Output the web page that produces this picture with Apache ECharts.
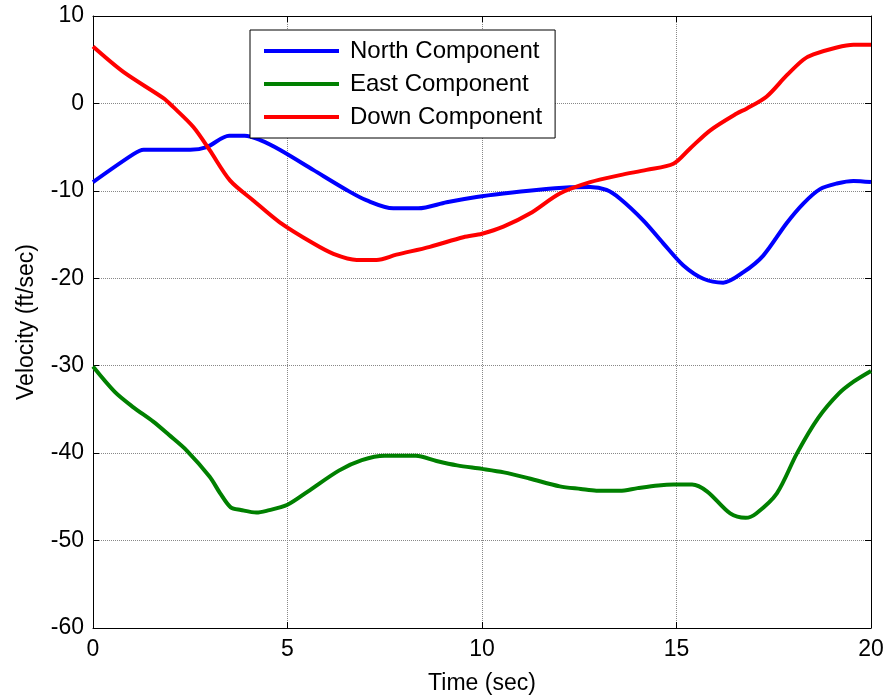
<!DOCTYPE html>
<html>
<head>
<meta charset="utf-8">
<script src="https://cdn.jsdelivr.net/npm/echarts@6/dist/echarts.min.js"></script>
<style>
  html, body { margin: 0; padding: 0; background: #fff; }
  #chart { width: 888px; height: 700px; }
</style>
</head>
<body>
<div id="chart"></div>
<script>
// values (time in sec, velocity in ft/sec)
var northT = [0, 1.04, 1.3, 2.5, 2.92, 3.5, 3.9, 4.3, 4.8, 5.66, 6.52, 7.04, 7.72, 8.36, 9.09, 9.86, 10.55, 11.4, 12.26, 12.78, 13.2, 13.55, 14.15, 14.66, 15.17, 15.69, 16.2, 16.72, 17.23, 17.83, 18.26, 18.69, 19.12, 19.55, 20];
var northV = [-9.0, -5.8, -5.3, -5.3, -5.0, -3.7, -3.7, -4.2, -5.3, -7.6, -9.9, -11.1, -12.0, -12.0, -11.3, -10.7, -10.3, -9.9, -9.6, -9.55, -9.9, -10.9, -13.4, -16.0, -18.5, -20.05, -20.5, -19.3, -17.4, -13.7, -11.45, -9.8, -9.16, -8.87, -9.0];

var eastT = [0, 0.56, 1.02, 1.55, 1.95, 2.41, 3.0, 3.27, 3.54, 3.8, 4.2, 4.46, 5.0, 5.52, 6.32, 6.91, 7.5, 8.3, 8.83, 9.36, 10.0, 10.56, 11.22, 12.0, 12.54, 12.94, 13.54, 14.0, 14.53, 14.93, 15.4, 15.79, 16.38, 16.78, 17.05, 17.58, 18.1, 18.64, 19.17, 19.56, 20];
var eastV = [-30.1, -33.0, -34.7, -36.4, -37.9, -39.7, -42.7, -44.6, -46.2, -46.5, -46.8, -46.6, -45.9, -44.4, -42.0, -40.8, -40.3, -40.3, -40.9, -41.4, -41.8, -42.2, -42.9, -43.8, -44.1, -44.3, -44.3, -44.0, -43.7, -43.6, -43.6, -44.4, -46.9, -47.4, -46.9, -44.6, -40.0, -36.0, -33.2, -31.8, -30.6];

var downT = [0, 0.78, 1.81, 2.06, 2.58, 3.0, 3.52, 4.12, 4.8, 5.66, 6.18, 6.78, 7.29, 7.8, 8.66, 9.52, 10.0, 10.55, 11.23, 12.0, 12.78, 13.55, 14.23, 14.92, 15.35, 15.86, 16.55, 16.8, 17.32, 17.83, 18.26, 18.52, 19.12, 19.55, 20];
var downV = [6.5, 3.6, 0.6, -0.4, -2.7, -5.35, -8.8, -11.1, -13.6, -16.0, -17.2, -17.9, -17.9, -17.3, -16.4, -15.3, -14.9, -14.1, -12.6, -10.3, -9.0, -8.2, -7.6, -6.9, -5.15, -3.1, -1.15, -0.6, 0.8, 3.2, 5.0, 5.6, 6.4, 6.7, 6.7];

var seriesNames = ["North Component", "East Component", "Down Component"];
var seriesColors = ["#0000FF", "#008000", "#FF0000"];

var xTicks = [0, 5, 10, 15, 20];
var yTicks = [-60, -50, -40, -30, -20, -10, 0, 10];

var font = "Liberation Sans, Arial, sans-serif";

function pairs(t, v) {
    var out = [];
    for (var i = 0; i < t.length; i++) out.push([t[i], v[i]]);
    return out;
}

var chart = echarts.init(document.getElementById("chart"));

var xBase = {
    type: "value",
    min: xTicks[0],
    max: xTicks[xTicks.length - 1],
    interval: 5,
    axisLine: { show: true, onZero: false, lineStyle: { color: "#000", width: 1 } },
    axisTick: { show: true, inside: true, length: 6, lineStyle: { color: "#000" } }
};
var yBase = {
    type: "value",
    min: yTicks[0],
    max: yTicks[yTicks.length - 1],
    interval: 10,
    axisLine: { show: true, onZero: false, lineStyle: { color: "#000", width: 1 } },
    axisTick: { show: true, inside: true, length: 6, lineStyle: { color: "#000" } }
};

var option = {
    animation: false,
    backgroundColor: "#fff",
    textStyle: { fontFamily: font },
    grid: { left: 93, right: 17, top: 16, bottom: 72 },
    legend: {
        orient: "vertical",
        left: 250,
        top: 30,
        data: seriesNames,
        icon: "rect",
        itemWidth: 75,
        itemHeight: 4,
        itemGap: 9,
        padding: [9, 13, 9, 14],
        backgroundColor: "#fff",
        borderColor: "#000",
        borderWidth: 1,
        borderRadius: 0,
        textStyle: { fontSize: 24, color: "#000", fontFamily: font, lineHeight: 24, padding: [0, 0, 0, 6] }
    },
    xAxis: [
        Object.assign({}, xBase, {
            position: "bottom",
            name: "Time (sec)",
            nameLocation: "middle",
            nameGap: 44,
            nameTextStyle: { fontSize: 23, color: "#000", fontFamily: font },
            axisLabel: { fontSize: 23, color: "#000", margin: 10, fontFamily: font },
            splitLine: { show: true, lineStyle: { color: "#888", type: "dotted", width: 1 } }
        }),
        Object.assign({}, xBase, {
            position: "top",
            axisLabel: { show: false },
            splitLine: { show: false }
        })
    ],
    yAxis: [
        Object.assign({}, yBase, {
            position: "left",
            name: "Velocity (ft/sec)",
            nameLocation: "middle",
            nameGap: 55,
            nameTextStyle: { fontSize: 23, color: "#000", fontFamily: font },
            axisLabel: { fontSize: 23, color: "#000", margin: 9, fontFamily: font },
            splitLine: { show: true, lineStyle: { color: "#888", type: "dotted", width: 1 } }
        }),
        Object.assign({}, yBase, {
            position: "right",
            axisLabel: { show: false },
            splitLine: { show: false }
        })
    ],
    series: [
        { name: seriesNames[0], type: "line", data: pairs(northT, northV), smooth: 0.3, showSymbol: false, color: seriesColors[0], lineStyle: { width: 4 } },
        { name: seriesNames[1], type: "line", data: pairs(eastT, eastV), smooth: 0.3, showSymbol: false, color: seriesColors[1], lineStyle: { width: 4 } },
        { name: seriesNames[2], type: "line", data: pairs(downT, downV), smooth: 0.3, showSymbol: false, color: seriesColors[2], lineStyle: { width: 4 } }
    ]
};

chart.setOption(option);
</script>
</body>
</html>
